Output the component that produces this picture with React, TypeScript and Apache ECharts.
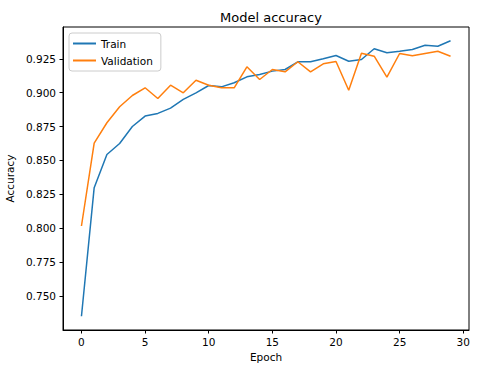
import React, { useEffect, useRef } from "react";
import * as echarts from "echarts";

const epochs: number[] = Array.from({ length: 30 }, (_, i) => i);
const trainAcc = [
  0.7350, 0.8299, 0.8544, 0.8625, 0.8750, 0.8827, 0.8847, 0.8886, 0.8950, 0.8999,
  0.9053, 0.9043, 0.9073, 0.9117, 0.9134, 0.9159, 0.9171, 0.9228, 0.9228, 0.9250,
  0.9274, 0.9232, 0.9245, 0.9324, 0.9294, 0.9306, 0.9319, 0.9350, 0.9343, 0.9383,
];
const valAcc = [
  0.8016, 0.8628, 0.8778, 0.8896, 0.8979, 0.9036, 0.8957, 0.9055, 0.8999, 0.9092,
  0.9055, 0.9036, 0.9036, 0.9191, 0.9097, 0.9171, 0.9154, 0.9228, 0.9154, 0.9213,
  0.9230, 0.9018, 0.9291, 0.9269, 0.9114, 0.9289, 0.9272, 0.9289, 0.9306, 0.9269,
];
const xTicks = [0, 5, 10, 15, 20, 25, 30];
const yTicks = [0.75, 0.775, 0.8, 0.825, 0.85, 0.875, 0.9, 0.925];

const FONT = "DejaVu Sans";
const FS = 10.5;

export default function App() {
  const ref = useRef<HTMLDivElement>(null);
  useEffect(() => {
    if (!ref.current) return;
    const chart = echarts.init(ref.current, undefined, { renderer: "svg" });
    const all = trainAcc.concat(valAcc);
    const dmin = Math.min(...all);
    const dmax = Math.max(...all);
    const pad = (dmax - dmin) * 0.05;
    const xpad = (epochs[epochs.length - 1] - epochs[0]) * 0.05;
    chart.setOption({
      animation: false,
      backgroundColor: "#fff",
      textStyle: { fontFamily: FONT },
      title: {
        text: "Model accuracy",
        left: 266,
        top: 6,
        textAlign: "center",
        textStyle: { fontFamily: FONT, fontSize: 13, fontWeight: "normal", color: "#000" },
      },
      grid: {
        left: 63,
        right: 11,
        top: 27,
        bottom: 38,
        containLabel: false,
        outerBoundsMode: "none",
        show: true,
        borderColor: "#000",
        borderWidth: 1,
        backgroundColor: "transparent",
      },
      legend: {
        orient: "vertical",
        left: 69,
        top: 33,
        padding: [4, 8, 4, 4],
        backgroundColor: "rgba(255,255,255,0.8)",
        borderColor: "#cccccc",
        borderWidth: 1,
        borderRadius: 3,
        itemGap: 4,
        itemWidth: 23,
        itemHeight: 2,
        icon: "rect",
        textStyle: { fontFamily: FONT, fontSize: FS, color: "#000", lineHeight: 13 },
        data: ["Train", "Validation"],
      },
      xAxis: {
        type: "value",
        min: epochs[0] - xpad,
        max: epochs[epochs.length - 1] + xpad,
        name: "Epoch",
        nameLocation: "middle",
        nameGap: 21,
        nameTextStyle: { fontFamily: FONT, fontSize: FS, color: "#000" },
        axisLine: { show: true, onZero: false, lineStyle: { color: "#000", width: 1 } },
        axisTick: { show: true, length: 3.5, lineStyle: { color: "#000" }, customValues: xTicks },
        axisLabel: {
          customValues: xTicks,
          margin: 6,
          fontFamily: FONT,
          fontSize: FS,
          color: "#000",
          formatter: (v: number) => String(v),
        },
        splitLine: { show: false },
      },
      yAxis: {
        type: "value",
        min: dmin - pad,
        max: dmax + pad,
        name: "Accuracy",
        nameLocation: "middle",
        nameGap: 45,
        nameRotate: 90,
        nameTextStyle: { fontFamily: FONT, fontSize: FS, color: "#000" },
        axisLine: { show: true, onZero: false, lineStyle: { color: "#000", width: 1 } },
        axisTick: { show: true, length: 3.5, lineStyle: { color: "#000" }, customValues: yTicks },
        axisLabel: {
          customValues: yTicks,
          margin: 7,
          fontFamily: FONT,
          fontSize: FS,
          color: "#000",
          formatter: (v: number) => v.toFixed(3),
        },
        splitLine: { show: false },
      },
      series: [
        {
          name: "Train",
          type: "line",
          data: epochs.map((e, i) => [e, trainAcc[i]]),
          showSymbol: false,
          symbol: "none",
          lineStyle: { color: "#1f77b4", width: 1.5 },
          itemStyle: { color: "#1f77b4" },
        },
        {
          name: "Validation",
          type: "line",
          data: epochs.map((e, i) => [e, valAcc[i]]),
          showSymbol: false,
          symbol: "none",
          lineStyle: { color: "#ff7f0e", width: 1.5 },
          itemStyle: { color: "#ff7f0e" },
        },
      ],
    });
    return () => chart.dispose();
  }, []);
  return (
    <div
      ref={ref}
      style={{ position: "fixed", left: 0, top: 0, width: 480, height: 368 }}
    />
  );
}
